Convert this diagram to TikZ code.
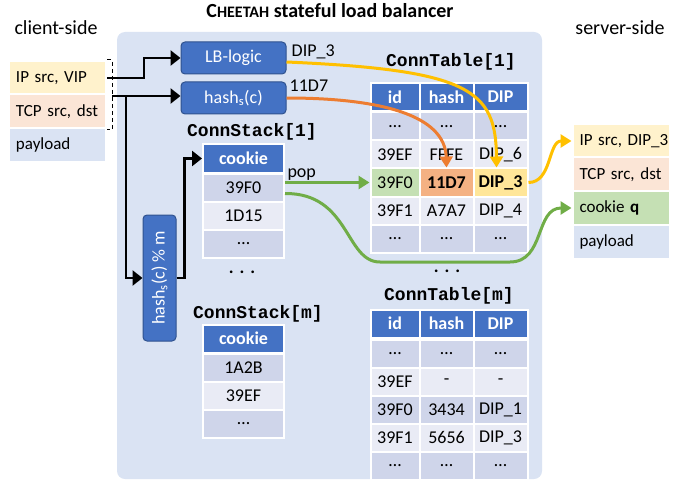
\documentclass[tikz,border=0pt]{standalone}
\usepackage{fontspec}
\setmainfont{Carlito}
\setmonofont{Liberation Mono}
\usetikzlibrary{arrows.meta,positioning}
\definecolor{panel}{HTML}{DAE3F3}
\definecolor{boxblue}{HTML}{4472C4}
\definecolor{boxedge}{HTML}{2F528F}
\definecolor{banddark}{HTML}{CFD5EA}
\definecolor{bandlight}{HTML}{E9EBF5}
\definecolor{pktyellow}{HTML}{FFF2CC}
\definecolor{pktpeach}{HTML}{FBE5D6}
\definecolor{pktgreen}{HTML}{C5E0B4}
\definecolor{hlorange}{HTML}{F4B183}
\definecolor{hlyellow}{HTML}{FFE699}
\definecolor{arrgold}{HTML}{FFC000}
\definecolor{arrorange}{HTML}{ED7D31}
\definecolor{arrgreen}{HTML}{70AD47}
\tikzset{
  cell/.style={draw=white, line width=2pt, inner sep=0pt, minimum height=28pt, font=\fontsize{18}{20}\selectfont},
  hdr/.style={cell, fill=boxblue, text=white, font=\fontsize{18}{20}\selectfont\bfseries},
  pkt/.style={draw=white, line width=2pt, text width=83pt, inner xsep=7pt, inner ysep=0pt, minimum height=34pt, align=left, font=\fontsize{17}{20}\selectfont},
  blk/.style={draw=boxedge, line width=1pt, fill=boxblue, rounded corners=4pt, text=white, inner sep=0pt, font=\fontsize{18}{20}\selectfont},
  tname/.style={font=\fontsize{18}{20}\selectfont\ttfamily\bfseries, inner sep=0pt},
  lbl/.style={font=\fontsize{18}{20}\selectfont, inner sep=1pt, text=black},
  side/.style={font=\fontsize{20}{22}\selectfont, inner sep=0pt},
  flow/.style={line width=2.8pt, -{Triangle[length=10pt,width=15pt]}},
  colflow/.style={line width=3pt, -{Triangle[length=11pt,width=13pt]}}
}
\begin{document}
\begin{tikzpicture}[x=1pt,y=-1pt]
\useasboundingbox (0,0) rectangle (679,481);
\fill[panel, rounded corners=8pt] (117,32) rectangle (542,479);

\node[anchor=base, inner sep=0pt, font=\fontsize{20}{22}\selectfont\bfseries] (title) at (330,18) {C{\fontsize{16}{18}\selectfont HEETAH} stateful load balancer};
\node[side, anchor=base] (cside) at (56,35) {client-side};
\node[side, anchor=base] (sside) at (620,35) {server-side};

% packets
\node[pkt, fill=pktyellow] (cIP) at (57.5,78) {\mbox{IP src, VIP}};
\node[pkt, fill=pktpeach] (cTCP) at (57.5,111.5) {\mbox{TCP src, dst}};
\node[pkt, fill=panel] (cPay) at (57.5,145) {payload};

\node[pkt, fill=pktyellow] (sIP) at (621,141) {\mbox{IP src, DIP\_3}};
\node[pkt, fill=pktpeach] (sTCP) at (621,174.5) {\mbox{TCP src, dst}};
\node[pkt, fill=pktgreen] (sCookie) at (621,208) {\mbox{cookie \textbf{q}}};
\node[pkt, fill=panel] (sPay) at (621,241.5) {payload};

% logic boxes
\node[blk, minimum width=105pt, minimum height=32pt] (lb) at (233.5,58) {LB-logic};
\node[blk, minimum width=105pt, minimum height=32pt] (hash) at (233.5,98) {hash\textsubscript{s}(c)};
\node[blk, minimum width=33pt, minimum height=126pt] (hashm) at (159.5,278) {\rotatebox{90}{hash\textsubscript{s}(c) \% m}};
\node[lbl, anchor=base west] (lbout) at ([xshift=4pt,yshift=1pt]lb.east) {DIP\_3};
\node[lbl, anchor=base west] (hashout) at ([xshift=2pt,yshift=6pt]hash.east) {11D7};

% stacks
\node[tname, anchor=base] (cs1name) at (252,137) {ConnStack[1]};
\node[hdr, minimum width=81pt] (cs1-0) at (243.5,158.5) {cookie};
\foreach \r/\y/\f/\v in {1/187.5/banddark/39F0, 2/215.5/bandlight/1D15, 3/243.5/banddark/\dots}
  \node[cell, fill=\f, minimum width=81pt] (cs1-\r) at (243.5,\y) {\v};
\node[lbl, font=\fontsize{18}{20}\selectfont\bfseries] (csdots) at (242,272) {.\hspace{6pt}.\hspace{6pt}.};

\node[tname, anchor=base] (csmname) at (258,318) {ConnStack[m]};
\node[hdr, minimum width=81pt] (csm-0) at (243.5,338.5) {cookie};
\foreach \r/\y/\f/\v in {1/367.5/banddark/1A2B, 2/395.5/bandlight/39EF, 3/423.5/banddark/\dots}
  \node[cell, fill=\f, minimum width=81pt] (csm-\r) at (243.5,\y) {\v};

% tables
\node[tname, anchor=base] (ct1name) at (451,67) {ConnTable[1]};
\foreach \k/\x/\w/\t in {1/395/49/id, 2/446.5/54/hash, 3/500.5/54/DIP}
  \node[hdr, minimum width=\w pt] (ct1-0-\k) at (\x,97) {\t};
\foreach \r/\y/\f/\ida/\hsh/\dip in {1/126.5/banddark/\dots/\dots/\dots, 2/154.5/bandlight/39EF/FFFE/DIP\_6, 4/210.5/bandlight/39F1/A7A7/DIP\_4, 5/238.5/banddark/\dots/\dots/\dots}{
  \node[cell, fill=\f, minimum width=49pt] (ct1-\r-1) at (395,\y) {\ida};
  \node[cell, fill=\f, minimum width=54pt] (ct1-\r-2) at (446.5,\y) {\hsh};
  \node[cell, fill=\f, minimum width=54pt] (ct1-\r-3) at (500.5,\y) {\dip};
}
\node[cell, fill=pktgreen, minimum width=49pt] (ct1-3-1) at (395,182.5) {39F0};
\node[cell, fill=hlorange, minimum width=54pt, font=\fontsize{18}{20}\selectfont\bfseries] (ct1-3-2) at (446.5,182.5) {11D7};
\node[cell, fill=hlyellow, minimum width=54pt, font=\fontsize{18}{20}\selectfont\bfseries] (ct1-3-3) at (500.5,182.5) {DIP\_3};
\node[lbl, font=\fontsize{18}{20}\selectfont\bfseries] (ctdots) at (447,271) {.\hspace{6pt}.\hspace{6pt}.};

\node[tname, anchor=base] (ctmname) at (449,300) {ConnTable[m]};
\foreach \k/\x/\w/\t in {1/395/49/id, 2/446.5/54/hash, 3/500.5/54/DIP}
  \node[hdr, minimum width=\w pt] (ctm-0-\k) at (\x,323.5) {\t};
\foreach \r/\y/\f/\ida/\hsh/\dip in {1/353.5/banddark/\dots/\dots/\dots, 2/381.5/bandlight/39EF/-/-, 3/409.5/banddark/39F0/3434/DIP\_1, 4/437.5/bandlight/39F1/5656/DIP\_3, 5/465.5/banddark/\dots/\dots/\dots}{
  \node[cell, fill=\f, minimum width=49pt] (ctm-\r-1) at (395,\y) {\ida};
  \node[cell, fill=\f, minimum width=54pt] (ctm-\r-2) at (446.5,\y) {\hsh};
  \node[cell, fill=\f, minimum width=54pt] (ctm-\r-3) at (500.5,\y) {\dip};
}

% black flow
\draw[line width=1pt, dash pattern=on 4pt off 3pt] (cIP.north east) -| ([xshift=5pt]cTCP.south east) -- (cTCP.south east);
\coordinate (brk) at ([xshift=5pt]cIP.south east);
\coordinate (split) at ([xshift=14pt]brk);
\draw[flow] (cIP.east) -- ++(37,0) |- (lb.west);
\draw[flow] (brk) -- (brk -| hash.west);
\draw[flow] (split) |- (hashm.west);
\draw[flow] (hashm.east) -- ++(8,0) |- (cs1-0.west);

% coloured flow
\draw[colflow, arrgold] ([yshift=-4pt]lb.east) .. controls (470,70) and (496,90) .. ([xshift=-4pt]ct1-3-3.north);
\draw[colflow, arrorange] (hash.east) .. controls (380,98) and (445,115) .. (ct1-3-2.north);
\draw[colflow, arrgold] (ct1-3-3.east) to[out=0, in=180] (sIP.west);
\draw[colflow, arrgreen] (cs1-1.east |- ct1-3-1) -- (ct1-3-1.west) node[lbl, pos=0, anchor=south west] {pop};
\draw[colflow, arrgreen] ([yshift=-6pt]cs1-1.east) .. controls (350,193) and (345,262) .. (380,262) -- (510,262) .. controls (545,262) and (535,208) .. (sCookie.west);
\end{tikzpicture}
\end{document}
